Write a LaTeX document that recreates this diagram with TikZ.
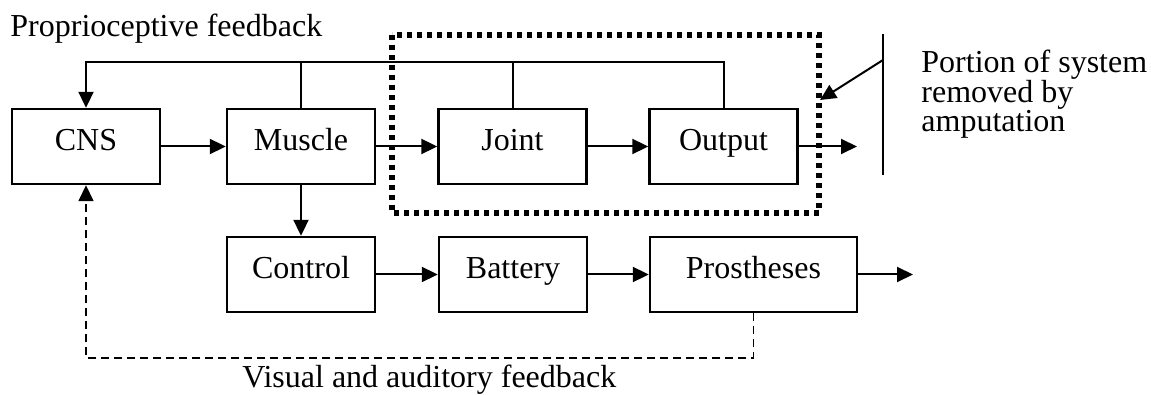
\documentclass[tikz,border=0pt]{standalone}
\usepackage{fontspec}
\setmainfont{Liberation Serif}
\usetikzlibrary{arrows.meta}
\begin{document}
\begin{tikzpicture}[x=0.5pt,y=-0.5pt,
  font=\fontsize{16pt}{19pt}\selectfont,
  block/.style={draw,line width=1.2pt,minimum width=74pt,minimum height=37.5pt,
    inner sep=0pt,text height=11pt,text depth=7pt},
  wide/.style={block,minimum width=103.5pt},
  conn/.style={line width=1pt},
  arr/.style={conn,-{Triangle[length=8pt,width=7.5pt]}},
  fbdash/.style={line width=0.8pt,dash pattern=on 4pt off 2.5pt},
  cutbox/.style={line width=2.6pt,dash pattern=on 2.5pt off 2.5pt},
  label/.style={anchor=base west,inner sep=0pt}]
\useasboundingbox (0,0) rectangle (1151,395);

% blocks
\node[block] (cns)   at (86,146.5)    {CNS};
\node[block] (mus)   at (301,146.5)   {Muscle};
\node[block] (joint) at (512.5,146.5) {Joint};
\node[block] (out)   at (723.5,146.5) {Output};
\node[block] (ctrl)  at (301,274.5)   {Control};
\node[block] (bat)   at (513,274.5)   {Battery};
\node[wide]  (pros)  at (753.5,274.5) {Prostheses};

% helper points
\coordinate (fb)    at (0,62);
\coordinate (vis)   at (0,358);
\coordinate (outend) at (857,146.5);
\coordinate (prosend) at (913,274.5);
\coordinate (bartop) at (883,34);
\coordinate (barbot) at (883,175);
\coordinate (barhit) at (883,60);
\coordinate (cuttip) at (820,100);

% portion removed by amputation
\draw[cutbox] (392,35) rectangle (819,213);

% forward path
\draw[arr] (cns) -- (mus);
\draw[arr] (mus) -- (joint);
\draw[arr] (joint) -- (out);
\draw[arr] (out) -- (outend);
\draw[arr] (mus) -- (ctrl);
\draw[arr] (ctrl) -- (bat);
\draw[arr] (bat) -- (pros);
\draw[arr] (pros) -- (prosend);

% proprioceptive feedback
\draw[arr] (out.north) -- (out.north |- fb) -- (cns.north |- fb) -- (cns.north);
\draw[conn] (joint.north) -- (joint.north |- fb);
\draw[conn] (mus.north) -- (mus.north |- fb);

% visual and auditory feedback
\draw[fbdash] (pros.south) -- (pros.south |- vis) -- (cns.south |- vis) -- ([yshift=-6pt]cns.south);
\draw[arr,line width=0.8pt] ([yshift=-6.5pt]cns.south) -- (cns.south);

% amputation marker
\draw[conn] (bartop) -- (barbot);
\draw[arr] (barhit) -- (cuttip);

% labels
\node[label] (lprop) at (10,37) {Proprioceptive feedback};
\node[label] (lvis) at (242,387) {Visual and auditory feedback};
\node[label,align=left,font=\fontsize{16pt}{14.8pt}\selectfont] (lcut) at (921,132)
  {Portion of system\\removed by\\amputation};
\end{tikzpicture}
\end{document}
